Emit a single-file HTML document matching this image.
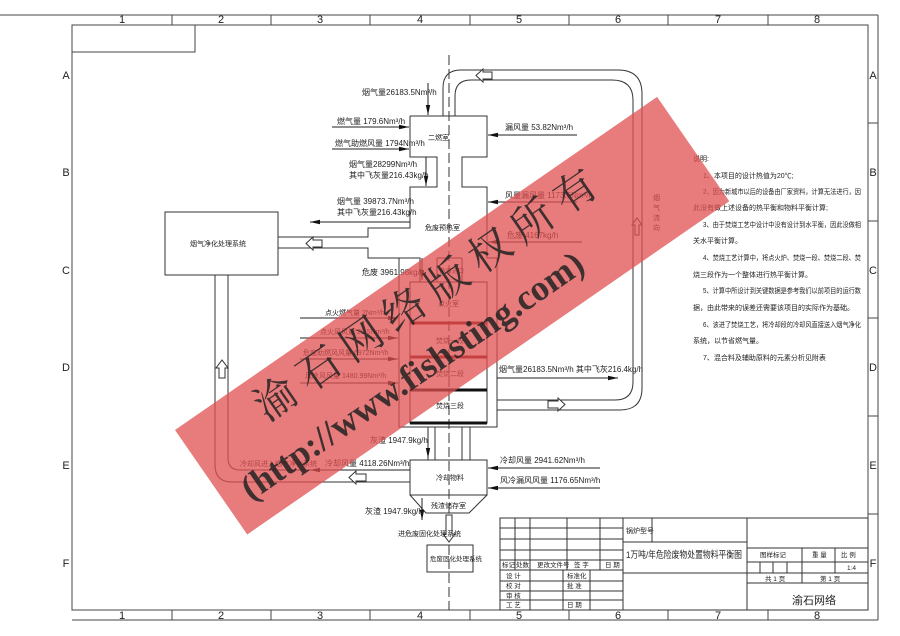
<!DOCTYPE html>
<html><head><meta charset="utf-8"><style>
html,body{margin:0;padding:0;background:#fff;}
svg{display:block;}
text{font-family:"Liberation Sans","Noto Sans CJK SC",sans-serif;fill:#222;}
</style></head><body>
<svg width="900" height="636" viewBox="0 0 900 636" xmlns="http://www.w3.org/2000/svg">
<defs>
<marker id="ah" markerWidth="10" markerHeight="6" refX="10" refY="3" orient="auto" markerUnits="userSpaceOnUse"><path d="M0,0.8 L10,3 L0,5.2z" fill="#111"/></marker>
</defs>
<g stroke="#444" stroke-width="1" fill="none">
<line x1="0" y1="15" x2="878" y2="15"/>
<line x1="878" y1="15" x2="878" y2="620"/>
<line x1="72" y1="620" x2="878" y2="620"/>
<rect x="72" y="25" width="796" height="585"/>
<rect x="72" y="25" width="123" height="27"/>
<path d="M172,15V25 M271,15V25 M370,15V25 M470,15V25 M569,15V25 M668,15V25 M768,15V25 M172,610V620 M271,610V620 M370,610V620 M470,610V620 M569,610V620 M668,610V620 M768,610V620 M868,123H878 M868,221H878 M868,318H878 M868,416H878 M868,514H878"/>
</g>
<g font-size="11" text-anchor="middle">
<text x="122" y="23">1</text><text x="221" y="23">2</text><text x="320" y="23">3</text><text x="420" y="23">4</text><text x="519" y="23">5</text><text x="618" y="23">6</text><text x="718" y="23">7</text><text x="817" y="23">8</text>
<text x="122" y="619">1</text><text x="221" y="619">2</text><text x="320" y="619">3</text><text x="420" y="619">4</text><text x="519" y="619">5</text><text x="618" y="619">6</text><text x="718" y="619">7</text><text x="817" y="619">8</text>
<text x="66" y="79">A</text><text x="66" y="176">B</text><text x="66" y="274">C</text><text x="66" y="371">D</text><text x="66" y="469">E</text><text x="66" y="567">F</text>
<text x="873" y="79">A</text><text x="873" y="176">B</text><text x="873" y="274">C</text><text x="873" y="371">D</text><text x="873" y="469">E</text><text x="873" y="567">F</text>
</g>

<g stroke="#333" stroke-width="1" fill="none">
<line x1="449" y1="55" x2="449" y2="610" stroke-dasharray="10,4"/>
<path d="M443,116 V88 Q443,70 461,70 H618 Q642,70 642,94 V388 Q642,410 620,410 H497"/>
<path d="M455,116 V96 Q455,80 471,80 H612 Q633,80 633,100 V382 Q633,400 615,400 H497"/>
<path d="M410,116 H487 V157 H462 V187 H487 V258 H497 V427 H399 V258"/>
<path d="M410,116 V157 H437 V187 H410 V228 H368 V237 H278"/>
<path d="M278,248 H368 V258 H420 V282 M437,258 V282 M420,282 H437"/>
<line x1="437" y1="258" x2="462" y2="258"/>
<line x1="462" y1="258" x2="462" y2="282"/>
<rect x="410" y="282" width="77" height="141"/>
<rect x="165" y="212" width="113" height="63"/>
<path d="M215,275 V465 Q215,482 232,482 H410"/>
<path d="M228,275 V458 Q228,470 240,470 H410"/>
<path d="M428,427 V460 M435,427 V460 M462,427 V460 M470,427 V460"/>
<path d="M410,460 H487 V495 H410 Z"/>
<path d="M410,495 L426,513 H469 L487,495"/>
<rect x="427" y="545" width="46" height="27"/>
</g>
<g stroke-width="3">
<line x1="410" y1="323" x2="487" y2="323" stroke="#7a1010"/>
<line x1="410" y1="357" x2="487" y2="357" stroke="#7a1010"/>
<line x1="410" y1="390" x2="487" y2="390" stroke="#111"/>
<line x1="410" y1="423" x2="487" y2="423" stroke="#111"/>
</g>

<g stroke="#222" stroke-width="1" fill="none" marker-end="url(#ah)">
<line x1="428" y1="83" x2="428" y2="115"/>
<line x1="332" y1="127" x2="409" y2="127"/>
<line x1="332" y1="149" x2="409" y2="149"/>
<line x1="426" y1="157" x2="426" y2="186"/>
<line x1="410" y1="222" x2="310" y2="222"/>
<line x1="577" y1="135" x2="488" y2="135"/>
<line x1="577" y1="202" x2="488" y2="202"/>
<line x1="582" y1="242" x2="488" y2="242"/>
<line x1="422" y1="258" x2="422" y2="280"/>
<line x1="300" y1="318" x2="398" y2="318"/>
<line x1="300" y1="338" x2="398" y2="338"/>
<line x1="300" y1="359" x2="398" y2="359"/>
<line x1="300" y1="383" x2="398" y2="383"/>
<line x1="497" y1="378" x2="618" y2="378"/>
<line x1="428" y1="430" x2="428" y2="458"/>
<line x1="330" y1="470" x2="310" y2="470"/>
<line x1="600" y1="468" x2="488" y2="468"/>
<line x1="600" y1="488" x2="488" y2="488"/>
<line x1="422" y1="498" x2="422" y2="520"/>
</g>
<line x1="410" y1="470" x2="330" y2="470" stroke="#222"/>
<g stroke="#333" fill="#fff" stroke-width="1">
<path d="M483,72 H492 V79 H483 V82 L476,75.5 L483,69Z"/>
<path d="M313,240 H322 V247 H313 V250 L306,243.5 L313,237Z"/>
<path d="M219,378 V368 H216 L222,360 L228,368 H225 V378Z"/>
<path d="M356,474 H366 V481 H356 V484 L349,477.5 L356,471Z"/>
<path d="M548,401 H558 V398 L565,404.5 L558,411 V408 H548Z"/>
<path d="M635,235 V225 H632 L637,218 L642,225 H639 V235Z"/>
<path d="M446,515 V534 H443 L449,542 L455,534 H452 V515Z"/>
</g>

<g font-size="8">
<text x="362" y="95">烟气量26183.5Nm³/h</text>
<text x="337" y="124">燃气量 179.6Nm³/h</text>
<text x="335" y="146">燃气助燃风量 1794Nm³/h</text>
<text x="349" y="167">烟气量28299Nm³/h</text>
<text x="349" y="178">其中飞灰量216.43kg/h</text>
<text x="337" y="204">烟气量 39873.7Nm³/h</text>
<text x="337" y="215">其中飞灰量216.43kg/h</text>
<text x="428" y="140" font-size="7">二燃室</text>
<text x="425" y="230" font-size="7">危废预热室</text>
<text x="190" y="246" font-size="7">烟气净化处理系统</text>
<text x="505" y="130">漏风量 53.82Nm³/h</text>
<text x="505" y="198">风量漏风量 1173.6Nm³/h</text>
<text x="507" y="238">危废 4167kg/h</text>
<text x="362" y="275">危废 3961.98kg/h</text>
<text x="440" y="273" font-size="6">危废进口</text>
<text x="325" y="315" font-size="7">点火燃气量 2Nm³/h</text>
<text x="320" y="334" font-size="7">点火风风量 20.5Nm³/h</text>
<text x="303" y="355" font-size="7">危废助燃风风量 6972Nm³/h</text>
<text x="305" y="378" font-size="7">风冷风风量 1480.99Nm³/h</text>
<text x="438" y="306" font-size="7">点火室</text>
<text x="436" y="343" font-size="7">焚烧一段</text>
<text x="436" y="376" font-size="7">焚烧二段</text>
<text x="436" y="408" font-size="7">焚烧三段</text>
<text x="499" y="372">烟气量26183.5Nm³/h 其中飞灰216.4kg/h</text>
<text x="370" y="443">灰渣 1947.9kg/h</text>
<text x="240" y="466" font-size="7">冷却风进入烟气净化系统</text>
<text x="325" y="466">冷却风量 4118.26Nm³/h</text>
<text x="500" y="463">冷却风量 2941.62Nm³/h</text>
<text x="500" y="483">风冷漏风风量 1176.65Nm³/h</text>
<text x="436" y="480" font-size="7">冷却物料</text>
<text x="431" y="508" font-size="7">残渣储存室</text>
<text x="365" y="514">灰渣 1947.9kg/h</text>
<text x="398" y="536" font-size="7">进危废固化处理系统</text>
<text x="430" y="561" font-size="6.5">危废固化处理系统</text>
<text x="653" y="200" font-size="7">烟</text><text x="653" y="210" font-size="7">气</text><text x="653" y="220" font-size="7">流</text><text x="653" y="230" font-size="7">向</text>
</g>
<g font-size="7">
<text x="693" y="161">说明:</text>
<text x="703" y="178">1、本项目的设计热值为20℃;</text>
<text x="703" y="194" textLength="158" lengthAdjust="spacingAndGlyphs">2、因为新城市以后的设备由厂家资料，计算无法进行，因</text>
<text x="693" y="210">此没有做上述设备的热平衡和物料平衡计算;</text>
<text x="703" y="227" textLength="158" lengthAdjust="spacingAndGlyphs">3、由于焚烧工艺中设计中没有设计到水平衡，因此没做相</text>
<text x="693" y="243">关水平衡计算。</text>
<text x="703" y="260" textLength="158" lengthAdjust="spacingAndGlyphs">4、焚烧工艺计算中，将点火炉、焚烧一段、焚烧二段、焚</text>
<text x="693" y="277">烧三段作为一个整体进行热平衡计算。</text>
<text x="703" y="293" textLength="158" lengthAdjust="spacingAndGlyphs">5、计算中所设计到关键数据是参考我们以前项目的运行数</text>
<text x="693" y="310">据，由此带来的误差还需要该项目的实际作为基础。</text>
<text x="703" y="327" textLength="158" lengthAdjust="spacingAndGlyphs">6、该进了焚烧工艺，将冷却段的冷却风直接送入烟气净化</text>
<text x="693" y="343">系统，以节省燃气量。</text>
<text x="703" y="360">7、混合料及辅助原料的元素分析见附表</text>
</g>

<g stroke="#333" stroke-width="1" fill="none">
<rect x="500" y="518" width="368" height="92"/>
<path d="M623,518V610 M747,518V610 M500,528H623 M500,539H623 M500,550H623 M500,560H623 M500,570H623 M500,581H623 M500,591H623 M500,600H623"/>
<path d="M515,518V570 M530,518V610 M567,518V570 M600,518V570 M563,570V610 M590,570V610"/>
<path d="M623,542H747 M652,518V542 M623,573H747"/>
<path d="M747,548H868 M747,562H868 M747,573H868 M747,583H868 M802,548V583 M835,548V573 M760,562V573 M773,562V573 M787,562V573"/>
</g>
<g font-size="6.5" fill="#222">
<text x="502" y="567">标记</text><text x="516" y="567">处数</text><text x="537" y="567">更改文件号</text><text x="574" y="567">签 字</text><text x="605" y="567">日 期</text>
<text x="506" y="578">设 计</text><text x="506" y="588">校 对</text><text x="506" y="598">审 核</text><text x="506" y="607">工 艺</text>
<text x="567" y="578">标准化</text><text x="567" y="588">批 准</text><text x="567" y="607">日 期</text>
<text x="626" y="533" font-size="7">锅炉型号</text>
<text x="760" y="557">图样标记</text><text x="812" y="557">重 量</text><text x="841" y="557">比 例</text>
<text x="847" y="570" fill="#777">1:4</text>
<text x="765" y="581">共 1 页</text><text x="820" y="581">第 1 页</text>
</g>
<text x="626" y="558" font-size="9.5" fill="#777" textLength="116" lengthAdjust="spacingAndGlyphs">1万吨/年危险废物处置物料平衡图</text>
<text x="792" y="604" font-size="11" fill="#888">渝石网络</text>

<g transform="translate(175,430) rotate(-34.65)">
<rect x="0" y="0" width="586" height="127" fill="rgb(224,80,80)" fill-opacity="0.75"/>
<text x="80" y="46" font-size="42" fill="#555" fill-opacity="0.85" letter-spacing="10" style="font-family:'Noto Serif CJK SC','Noto Sans CJK SC',serif;">渝石网络版权所有</text>
<text x="22" y="102" font-size="36" font-weight="bold" fill="#555" fill-opacity="0.85" style="font-family:'Liberation Serif',serif;">(http://www.fishsting.com)</text>
</g>
</svg>
</body></html>
